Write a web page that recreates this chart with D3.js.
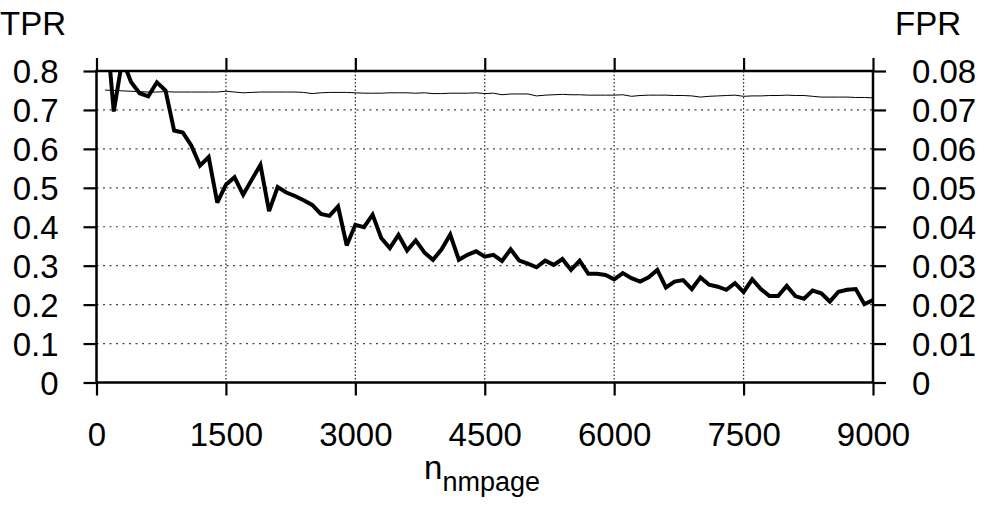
<!DOCTYPE html>
<html>
<head>
<meta charset="utf-8">
<script src="https://cdn.jsdelivr.net/npm/d3@7"></script>
<style>
  html, body { margin: 0; padding: 0; background: #fff; }
  svg { display: block; }
  text { font-family: "Liberation Sans", Arial, Helvetica, sans-serif; fill: #000; }
</style>
</head>
<body>
<svg id="chart" width="990" height="508"></svg>
<script>
// ---- data ----
const nValues = [100,200,300,400,500,600,700,800,900,
  1000,1100,1200,1300,1400,1500,1600,1700,1800,1900,
  2000,2100,2200,2300,2400,2500,2600,2700,2800,2900,
  3000,3100,3200,3300,3400,3500,3600,3700,3800,3900,
  4000,4100,4200,4300,4400,4500,4600,4700,4800,4900,
  5000,5100,5200,5300,5400,5500,5600,5700,5800,5900,
  6000,6100,6200,6300,6400,6500,6600,6700,6800,6900,
  7000,7100,7200,7300,7400,7500,7600,7700,7800,7900,
  8000,8100,8200,8300,8400,8500,8600,8700,8800,8900,
  9000];

// TPR (left axis, thin line)
const tprValues = [0.751,0.750,0.749,0.748,0.747,0.746,0.746,0.747,0.746,
  0.746,0.746,0.746,0.746,0.746,0.748,0.746,0.744,0.745,0.746,
  0.746,0.746,0.746,0.746,0.745,0.742,0.744,0.745,0.745,0.745,
  0.744,0.743,0.743,0.743,0.744,0.744,0.744,0.743,0.744,0.742,
  0.742,0.743,0.743,0.743,0.744,0.742,0.743,0.739,0.741,0.741,
  0.741,0.736,0.738,0.739,0.740,0.739,0.739,0.738,0.738,0.738,
  0.738,0.739,0.735,0.737,0.738,0.738,0.738,0.737,0.737,0.736,
  0.733,0.735,0.736,0.737,0.738,0.735,0.736,0.736,0.737,0.737,
  0.738,0.737,0.737,0.735,0.733,0.733,0.733,0.733,0.732,0.732,
  0.731];

// FPR (right axis, thick line)
const fprValues = [0.095,0.0696,0.083,0.0772,0.0743,0.0735,0.0771,0.0750,0.0647,
  0.0642,0.0608,0.0557,0.0579,0.0462,0.0508,0.0527,0.0482,0.0521,0.0559,
  0.0440,0.0502,0.0488,0.0479,0.0468,0.0456,0.0433,0.0428,0.0452,0.0352,
  0.0405,0.0399,0.0431,0.0371,0.0345,0.0379,0.0339,0.0365,0.0334,0.0315,
  0.0342,0.0380,0.0315,0.0328,0.0337,0.0323,0.0328,0.0312,0.0342,0.0313,
  0.0305,0.0296,0.0313,0.0302,0.0317,0.0289,0.0313,0.0279,0.0279,0.0276,
  0.0265,0.0281,0.0268,0.0259,0.0270,0.0289,0.0244,0.0259,0.0263,0.0240,
  0.0270,0.0251,0.0246,0.0238,0.0255,0.0232,0.0265,0.0240,0.0222,0.0222,
  0.0248,0.0222,0.0215,0.0236,0.0229,0.0208,0.0233,0.0238,0.0240,0.0201,
  0.0212];

const xTicks = [0,1500,3000,4500,6000,7500,9000];
const leftTicks = [0,0.1,0.2,0.3,0.4,0.5,0.6,0.7,0.8];
const leftTickLabels = ["0","0.1","0.2","0.3","0.4","0.5","0.6","0.7","0.8"];
const rightTicks = [0,0.01,0.02,0.03,0.04,0.05,0.06,0.07,0.08];
const rightTickLabels = ["0","0.01","0.02","0.03","0.04","0.05","0.06","0.07","0.08"];
const leftTitle = "TPR";
const rightTitle = "FPR";
const xTitleMain = "n";
const xTitleSub = "nmpage";

// ---- layout ----
const L = 96.5, R = 873, T = 71, B = 382.5;
const FS = 33;
const svg = d3.select("#chart");

const x = d3.scaleLinear().domain([0, 9000]).range([L, R]);
const yL = d3.scaleLinear().domain([0, 0.8]).range([B, T]);
const yR = d3.scaleLinear().domain([0, 0.08]).range([B, T]);

// grid: horizontal (dotted grey)
svg.append("g").selectAll("line").data(leftTicks.slice(1, -1)).join("line")
  .attr("x1", L).attr("x2", R)
  .attr("y1", d => yL(d)).attr("y2", d => yL(d))
  .attr("stroke", "#444").attr("stroke-width", 1.2)
  .attr("stroke-dasharray", "2,4.5");

// grid: vertical (dotted)
svg.append("g").selectAll("line").data(xTicks.slice(1, -1)).join("line")
  .attr("x1", d => x(d)).attr("x2", d => x(d))
  .attr("y1", T).attr("y2", B)
  .attr("stroke", "#222").attr("stroke-width", 1.2)
  .attr("stroke-dasharray", "1.5,2.2");

// axes with outward ticks, mirrored on all sides
const tickLen = 13;
const bottomAxis = d3.axisBottom(x).tickValues(xTicks).tickSize(tickLen).tickFormat(d => d);
const topAxis = d3.axisTop(x).tickValues(xTicks).tickSize(tickLen).tickFormat("");
const leftAxis = d3.axisLeft(yL).tickValues(leftTicks).tickSize(tickLen)
  .tickFormat((d, i) => leftTickLabels[i]);
const rightAxis = d3.axisRight(yR).tickValues(rightTicks).tickSize(tickLen)
  .tickFormat((d, i) => rightTickLabels[i]);

function styleAxis(g) {
  g.select(".domain").remove();
  g.selectAll(".tick line").attr("stroke", "#000").attr("stroke-width", 2.2);
  g.selectAll(".tick text").attr("font-size", FS).attr("fill", "#000")
    .style("font-family", "'Liberation Sans', Arial, sans-serif");
}

svg.append("g").attr("transform", `translate(0,${B})`).call(bottomAxis).call(styleAxis)
  .selectAll(".tick text").attr("y", 0).attr("dy", 0).attr("transform", "translate(0,63)");
svg.append("g").attr("transform", `translate(0,${T})`).call(topAxis).call(styleAxis);
svg.append("g").attr("transform", `translate(${L},0)`).call(leftAxis).call(styleAxis)
  .selectAll(".tick text").attr("x", -38).attr("dy", "0.36em");
svg.append("g").attr("transform", `translate(${R},0)`).call(rightAxis).call(styleAxis)
  .selectAll(".tick text").attr("x", 39).attr("dy", "0.36em");

// clip
svg.append("clipPath").attr("id", "plotclip")
  .append("rect").attr("x", L).attr("y", T).attr("width", R - L).attr("height", B - T);

const data = nValues.map((n, i) => ({ n, tpr: tprValues[i], fpr: fprValues[i] }));

// TPR thin line
svg.append("path").datum(data)
  .attr("clip-path", "url(#plotclip)")
  .attr("fill", "none").attr("stroke", "#000").attr("stroke-width", 1)
  .attr("d", d3.line().x(d => x(d.n)).y(d => yL(d.tpr)));

// FPR thick line
svg.append("path").datum(data)
  .attr("clip-path", "url(#plotclip)")
  .attr("fill", "none").attr("stroke", "#000").attr("stroke-width", 4)
  .attr("stroke-linejoin", "miter").attr("stroke-miterlimit", 3)
  .attr("d", d3.line().x(d => x(d.n)).y(d => yR(d.fpr)));

// frame
svg.append("rect").attr("x", L).attr("y", T).attr("width", R - L).attr("height", B - T)
  .attr("fill", "none").attr("stroke", "#000").attr("stroke-width", 2.5);

// titles
svg.append("text").attr("x", 0).attr("y", 35).attr("font-size", FS).text(leftTitle);
svg.append("text").attr("x", 895).attr("y", 35).attr("font-size", FS).text(rightTitle);

const xt = svg.append("text").attr("x", 482).attr("y", 479).attr("text-anchor", "middle");
xt.append("tspan").attr("font-size", FS).text(xTitleMain);
xt.append("tspan").attr("font-size", 27).attr("dy", 12).text(xTitleSub);
</script>
</body>
</html>
